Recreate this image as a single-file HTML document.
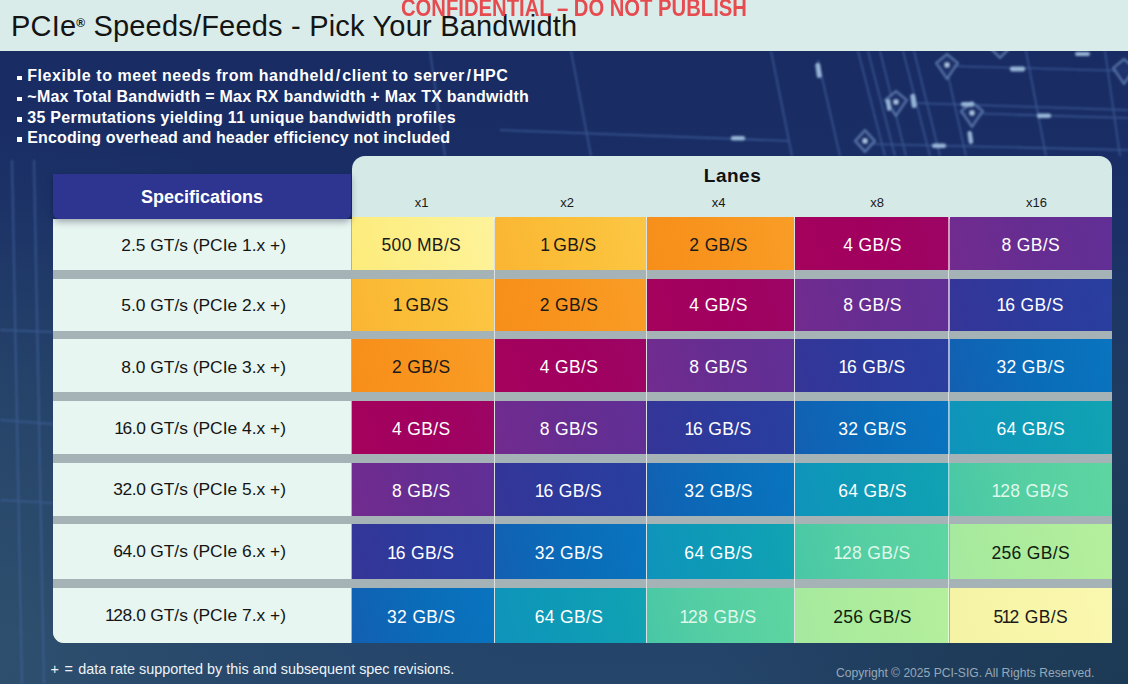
<!DOCTYPE html>
<html lang="en"><head><meta charset="utf-8"><title>PCIe Speeds/Feeds - Pick Your Bandwidth</title>
<style>
html,body{margin:0;padding:0}
body{width:1128px;height:684px;overflow:hidden;position:relative;font-family:"Liberation Sans",sans-serif;background:#1b2b62}
#bg{position:absolute;left:0;top:0;width:1128px;height:684px}
.abs{position:absolute}
#titlebar{left:0;top:0;width:1128px;height:50.5px;background:#d9ecea}
#title{left:11px;top:8.5px;font-size:29px;letter-spacing:.2px;color:#141414;white-space:nowrap;line-height:34px}
#title sup{font-size:12px;font-weight:bold;vertical-align:baseline;position:relative;top:-9px;letter-spacing:0}
#conf{left:401px;top:-7.4px;font-size:24.5px;font-weight:bold;color:#e83a3f;opacity:.9;white-space:nowrap;line-height:30px;transform:scaleX(.826);transform-origin:0 0}
.bul{left:17.1px;color:#fff;font-weight:bold;font-size:16px;white-space:nowrap;line-height:20px}
.bul s{text-decoration:none;margin:0 1.5px}
.bul i{margin-left:.3px;display:inline-block;width:4.4px;height:4.4px;background:#fff;margin-right:5.5px;vertical-align:1px}
#lanes{left:351.5px;top:155.5px;width:760.5px;height:487px;background:#d5e9e7;border-radius:13px 13px 0 0}
#gapbg{left:53px;top:219px;width:1059px;height:424px;background:#a6b3b6;border-radius:0 0 0 11px}
#spechead{left:52.7px;top:173.5px;width:298.8px;height:45.5px;background:#2d3590;border-radius:0 0 6px 6px;box-shadow:0 3px 7px rgba(0,0,40,.33);color:#fff;font-weight:bold;font-size:18px;text-align:center;line-height:47.5px}
.sp{left:53px;width:298px;background:#e8f6f1;color:#151515;font-size:17.4px;white-space:nowrap}
.sp span{position:absolute;right:65px;top:50%;transform:translateY(-50%);line-height:20px;margin-top:0px}
.c{box-sizing:border-box;text-align:center;font-size:17.5px;letter-spacing:.35px;white-space:nowrap}
.c b{font-weight:normal;margin:0 -2.2px}
.c em{font-style:normal;margin:0 -2.4px 0 -1.2px}
.c i{font-style:normal;margin:0 -1.5px 0 -1.2px}
.sp b{font-weight:normal;margin:0 -1.3px 0 -1.1px}
.sp u{text-decoration:none;letter-spacing:-.45px}
.lh{font-size:13px;color:#1a1a1a;text-align:center;line-height:16px;top:195.2px;width:40px}
#lanest{left:692.5px;width:80px;top:164.5px;text-align:center;font-weight:bold;font-size:19px;letter-spacing:.5px;color:#111;line-height:22px}
#foot{left:50.5px;top:661px;color:#eef3f8;font-size:14.4px;line-height:16px;white-space:nowrap}
#copy{left:836px;top:665.5px;color:#97a8b8;font-size:12.1px;line-height:14px;white-space:nowrap}
</style></head><body>
<svg id="bg" viewBox="0 0 1128 684">
<defs>
<linearGradient id="g1" x1="0" y1="0" x2="0" y2="1"><stop offset="0" stop-color="#182a62"/><stop offset="0.3" stop-color="#1a2f66"/><stop offset="0.6" stop-color="#203c66"/><stop offset="1" stop-color="#25456a"/></linearGradient>
<radialGradient id="g2" gradientUnits="userSpaceOnUse" cx="0" cy="640" r="520"><stop offset="0" stop-color="#31526f" stop-opacity=".8"/><stop offset="1" stop-color="#2a4a6c" stop-opacity="0"/></radialGradient>
<radialGradient id="g3" gradientUnits="userSpaceOnUse" cx="1128" cy="684" r="420"><stop offset="0" stop-color="#1c3a54" stop-opacity="1"/><stop offset="0.5" stop-color="#1d3a56" stop-opacity=".7"/><stop offset="1" stop-color="#1d3a58" stop-opacity="0"/></radialGradient>
<filter id="bl" x="-5%" y="-5%" width="110%" height="110%"><feGaussianBlur stdDeviation=".9"/></filter>
</defs>
<rect width="1128" height="684" fill="url(#g1)"/>
<rect width="1128" height="684" fill="url(#g2)"/><rect width="1128" height="684" fill="url(#g3)"/>
<g filter="url(#bl)"><g stroke="#4465a2" stroke-width="1.6" fill="none" opacity=".7">
<path d="M571 51L591 156M771 51L792 156M818 60L840 156M858 51L885 156M868 51L895 156M880 51L906 156M903 51L930 156M914 51L940 156M948 75L966 156M1026 51L1046 156M1105 51L1120 156"/>
<path d="M500 130L790 141M947 66L1128 71M915 103L1128 110M960 113L1128 118M867 144L1128 150M430 51L445 156"/>
<path d="M0 330L53 332M0 420L53 424M0 500L53 503M12 160L22 684M34 160L44 684"/>
</g>
<g fill="#1e336e" stroke="#6485b8" stroke-width="2.2" stroke-linejoin="round" opacity=".8">
<path d="M947 54l11 9-11 16-11-16z"/>
<path d="M896 91l11 9-11 16-11-16z"/>
<path d="M972 102l11 9-11 16-11-16z"/>
<path d="M1124 59l11 9-11 16-11-16z"/>
<path d="M865 130l10 11-10 11-10-11z"/>
<path d="M1000 40l9 9-9 9-9-9z"/>
</g>
<g fill="#b5d2ec" opacity=".95">
<circle cx="947" cy="65" r="2.4"/><circle cx="896" cy="102" r="2.4"/><circle cx="972" cy="113" r="2.4"/><circle cx="865" cy="141" r="2.4"/>
</g>
<g fill="#a3c3e2" opacity=".9">
<rect x="816" y="63" width="5" height="15" rx="2" transform="rotate(-8 818 70)"/>
<rect x="1010" y="66.500" width="15" height="5" rx="2"/>
<rect x="911" y="94" width="5" height="14" rx="2" transform="rotate(-8 913 101)"/>
<rect x="961" y="102" width="13" height="4.500" rx="2"/>
<rect x="1037" y="113.500" width="14" height="4.500" rx="2"/>
<rect x="932" y="143.500" width="14" height="4.500" rx="2"/>
<rect x="968" y="131" width="4.500" height="13" rx="2" transform="rotate(-8 970 137)"/>
<rect x="886.500" y="99" width="4" height="12" rx="2" transform="rotate(-8 888 105)"/>
<rect x="1075" y="52" width="15" height="4" rx="2"/>
<rect x="731" y="136" width="14" height="4.500" rx="2"/>
</g>
</g>
</svg>
<div id="titlebar" class="abs"></div>
<div id="title" class="abs">PCIe<sup>®</sup> Speeds/Feeds - Pick Your Bandwidth</div>
<div id="conf" class="abs">CONFIDENTIAL – DO NOT PUBLISH</div>

<div class="abs bul" style="top:66px;letter-spacing:0.55px"><i></i>Flexible to meet needs from handheld<s>/</s>client to server<s>/</s>HPC</div>
<div class="abs bul" style="top:87px;letter-spacing:0.25px"><i></i>~Max Total Bandwidth = Max RX bandwidth + Max TX bandwidth</div>
<div class="abs bul" style="top:107.5px;letter-spacing:0.27px"><i></i>35 Permutations yielding 11 unique bandwidth profiles</div>
<div class="abs bul" style="top:127.5px;letter-spacing:0.13px"><i></i>Encoding overhead and header efficiency not included</div>
<div id="lanes" class="abs"></div>
<div id="gapbg" class="abs"></div>
<div id="lanest" class="abs">Lanes</div>
<div class="abs lh" style="left:401.5px">x1</div>
<div class="abs lh" style="left:547.0px">x2</div>
<div class="abs lh" style="left:698.7px">x4</div>
<div class="abs lh" style="left:857.0px">x8</div>
<div class="abs lh" style="left:1016.6px">x16</div>
<div class="abs sp" style="top:219px;height:51px"><span style="margin-top:0.6px">2.5 GT/s (PCIe 1.x +)</span></div>
<div class="abs c" style="left:352px;top:216.7px;width:142px;height:53.30000000000001px;line-height:57.3px;padding-right:3.4px;background:linear-gradient(75deg,#fdec7c,#fdef8a 50%,#fef39b);color:#1a1a1a">500 MB/S</div>
<div class="abs c" style="left:495px;top:216.7px;width:151px;height:53.30000000000001px;line-height:57.3px;padding-right:3.0px;background:linear-gradient(75deg,#fab533,#fbbf38 50%,#fcc644);color:#1a1a1a"><em>1</em> GB/S</div>
<div class="abs c" style="left:647px;top:216.7px;width:147px;height:53.30000000000001px;line-height:57.3px;padding-right:3.8px;background:linear-gradient(75deg,#f78e1a,#f8951f 50%,#f99d26);color:#1a1a1a">2 GB/S</div>
<div class="abs c" style="left:795px;top:216.7px;width:153.5px;height:53.30000000000001px;line-height:57.3px;padding-left:1.6px;background:linear-gradient(75deg,#a4025c,#a1005f 50%,#9c0564);color:#fff">4 GB/S</div>
<div class="abs c" style="left:949.5px;top:216.7px;width:162.5px;height:53.30000000000001px;line-height:57.3px;background:linear-gradient(75deg,#722b8f,#662d91 50%,#602f96);color:#fff">8 GB/S</div>
<div class="abs sp" style="top:278.5px;height:52.5px"><span style="margin-top:0.4px">5.0 GT/s (PCIe 2.x +)</span></div>
<div class="abs c" style="left:352px;top:278.5px;width:142px;height:52.5px;line-height:52.5px;padding-right:3.4px;background:linear-gradient(75deg,#fab533,#fbbf38 50%,#fcc644);color:#1a1a1a"><em>1</em> GB/S</div>
<div class="abs c" style="left:495px;top:278.5px;width:151px;height:52.5px;line-height:52.5px;padding-right:3.0px;background:linear-gradient(75deg,#f78e1a,#f8951f 50%,#f99d26);color:#1a1a1a">2 GB/S</div>
<div class="abs c" style="left:647px;top:278.5px;width:147px;height:52.5px;line-height:52.5px;padding-right:3.8px;background:linear-gradient(75deg,#a4025c,#a1005f 50%,#9c0564);color:#fff">4 GB/S</div>
<div class="abs c" style="left:795px;top:278.5px;width:153.5px;height:52.5px;line-height:52.5px;padding-left:1.6px;background:linear-gradient(75deg,#722b8f,#662d91 50%,#602f96);color:#fff">8 GB/S</div>
<div class="abs c" style="left:949.5px;top:278.5px;width:162.5px;height:52.5px;line-height:52.5px;background:linear-gradient(75deg,#353597,#2c3a9c 50%,#293fa0);color:#fff"><i>1</i>6 GB/S</div>
<div class="abs sp" style="top:339px;height:52.5px"><span style="margin-top:1.3px">8.0 GT/s (PCIe 3.x +)</span></div>
<div class="abs c" style="left:352px;top:339px;width:142px;height:52.5px;line-height:56.5px;padding-right:3.4px;background:linear-gradient(75deg,#f78e1a,#f8951f 50%,#f99d26);color:#1a1a1a">2 GB/S</div>
<div class="abs c" style="left:495px;top:339px;width:151px;height:52.5px;line-height:56.5px;padding-right:3.0px;background:linear-gradient(75deg,#a4025c,#a1005f 50%,#9c0564);color:#fff">4 GB/S</div>
<div class="abs c" style="left:647px;top:339px;width:147px;height:52.5px;line-height:56.5px;padding-right:3.8px;background:linear-gradient(75deg,#722b8f,#662d91 50%,#602f96);color:#fff">8 GB/S</div>
<div class="abs c" style="left:795px;top:339px;width:153.5px;height:52.5px;line-height:56.5px;padding-left:1.6px;background:linear-gradient(75deg,#353597,#2c3a9c 50%,#293fa0);color:#fff"><i>1</i>6 GB/S</div>
<div class="abs c" style="left:949.5px;top:339px;width:162.5px;height:52.5px;line-height:56.5px;background:linear-gradient(75deg,#135fb2,#0a6cb9 50%,#0974bf);color:#fff">32 GB/S</div>
<div class="abs sp" style="top:400.5px;height:53.5px"><span style="margin-top:1px"><b>1</b><u>6.0</u> GT/s (PCIe 4.x +)</span></div>
<div class="abs c" style="left:352px;top:400.5px;width:142px;height:53.5px;line-height:56.1px;padding-right:3.4px;background:linear-gradient(75deg,#a4025c,#a1005f 50%,#9c0564);color:#fff">4 GB/S</div>
<div class="abs c" style="left:495px;top:400.5px;width:151px;height:53.5px;line-height:56.1px;padding-right:3.0px;background:linear-gradient(75deg,#722b8f,#662d91 50%,#602f96);color:#fff">8 GB/S</div>
<div class="abs c" style="left:647px;top:400.5px;width:147px;height:53.5px;line-height:56.1px;padding-right:3.8px;background:linear-gradient(75deg,#353597,#2c3a9c 50%,#293fa0);color:#fff"><i>1</i>6 GB/S</div>
<div class="abs c" style="left:795px;top:400.5px;width:153.5px;height:53.5px;line-height:56.1px;padding-left:1.6px;background:linear-gradient(75deg,#135fb2,#0a6cb9 50%,#0974bf);color:#fff">32 GB/S</div>
<div class="abs c" style="left:949.5px;top:400.5px;width:162.5px;height:53.5px;line-height:56.1px;background:linear-gradient(75deg,#0f93bb,#0e9bb6 50%,#11a3b3);color:#fff">64 GB/S</div>
<div class="abs sp" style="top:462.5px;height:53.0px"><span style="margin-top:0px"><u>32.0</u> GT/s (PCIe 5.x +)</span></div>
<div class="abs c" style="left:352px;top:462.5px;width:142px;height:53.0px;line-height:56.4px;padding-right:3.4px;background:linear-gradient(75deg,#722b8f,#662d91 50%,#602f96);color:#fff">8 GB/S</div>
<div class="abs c" style="left:495px;top:462.5px;width:151px;height:53.0px;line-height:56.4px;padding-right:3.0px;background:linear-gradient(75deg,#353597,#2c3a9c 50%,#293fa0);color:#fff"><i>1</i>6 GB/S</div>
<div class="abs c" style="left:647px;top:462.5px;width:147px;height:53.0px;line-height:56.4px;padding-right:3.8px;background:linear-gradient(75deg,#135fb2,#0a6cb9 50%,#0974bf);color:#fff">32 GB/S</div>
<div class="abs c" style="left:795px;top:462.5px;width:153.5px;height:53.0px;line-height:56.4px;padding-left:1.6px;background:linear-gradient(75deg,#0f93bb,#0e9bb6 50%,#11a3b3);color:#fff">64 GB/S</div>
<div class="abs c" style="left:949.5px;top:462.5px;width:162.5px;height:53.0px;line-height:56.4px;background:linear-gradient(75deg,#49c7a6,#56cfa2 50%,#5ed5a1);color:#dff8ea"><i>1</i>28 GB/S</div>
<div class="abs sp" style="top:524px;height:55px"><span style="margin-top:-0.3px"><u>64.0</u> GT/s (PCIe 6.x +)</span></div>
<div class="abs c" style="left:352px;top:524px;width:142px;height:55px;line-height:59.6px;padding-right:3.4px;background:linear-gradient(75deg,#353597,#2c3a9c 50%,#293fa0);color:#fff"><i>1</i>6 GB/S</div>
<div class="abs c" style="left:495px;top:524px;width:151px;height:55px;line-height:59.6px;padding-right:3.0px;background:linear-gradient(75deg,#135fb2,#0a6cb9 50%,#0974bf);color:#fff">32 GB/S</div>
<div class="abs c" style="left:647px;top:524px;width:147px;height:55px;line-height:59.6px;padding-right:3.8px;background:linear-gradient(75deg,#0f93bb,#0e9bb6 50%,#11a3b3);color:#fff">64 GB/S</div>
<div class="abs c" style="left:795px;top:524px;width:153.5px;height:55px;line-height:59.6px;padding-left:1.6px;background:linear-gradient(75deg,#49c7a6,#56cfa2 50%,#5ed5a1);color:#dff8ea"><i>1</i>28 GB/S</div>
<div class="abs c" style="left:949.5px;top:524px;width:162.5px;height:55px;line-height:59.6px;background:linear-gradient(75deg,#a5e99f,#adec9c 50%,#b5ef9c);color:#10200f">256 GB/S</div>
<div class="abs sp" style="top:588px;height:55px;border-radius:0 0 0 11px"><span style="margin-top:-1px"><b>1</b><u>28.0</u> GT/s (PCIe 7.x +)</span></div>
<div class="abs c" style="left:352px;top:588px;width:142px;height:55px;line-height:59.6px;padding-right:3.4px;background:linear-gradient(75deg,#135fb2,#0a6cb9 50%,#0974bf);color:#fff">32 GB/S</div>
<div class="abs c" style="left:495px;top:588px;width:151px;height:55px;line-height:59.6px;padding-right:3.0px;background:linear-gradient(75deg,#0f93bb,#0e9bb6 50%,#11a3b3);color:#fff">64 GB/S</div>
<div class="abs c" style="left:647px;top:588px;width:147px;height:55px;line-height:59.6px;padding-right:3.8px;background:linear-gradient(75deg,#49c7a6,#56cfa2 50%,#5ed5a1);color:#dff8ea"><i>1</i>28 GB/S</div>
<div class="abs c" style="left:795px;top:588px;width:153.5px;height:55px;line-height:59.6px;padding-left:1.6px;background:linear-gradient(75deg,#a5e99f,#adec9c 50%,#b5ef9c);color:#10200f">256 GB/S</div>
<div class="abs c" style="left:949.5px;top:588px;width:162.5px;height:55px;line-height:59.6px;background:linear-gradient(75deg,#f4f3a4,#f8f6a9 50%,#faf7af);color:#1a1a1a">5<b>1</b>2 GB/S</div>
<div class="abs" style="left:493.8px;top:217px;width:1.4px;height:426px;background:rgba(255,255,255,.6)"></div>
<div class="abs" style="left:645.5999999999999px;top:217px;width:1.4px;height:426px;background:rgba(255,255,255,.6)"></div>
<div class="abs" style="left:793.5999999999999px;top:217px;width:1.4px;height:426px;background:rgba(255,255,255,.6)"></div>
<div class="abs" style="left:948.0999999999999px;top:217px;width:1.4px;height:426px;background:rgba(255,255,255,.6)"></div>
<div id="spechead" class="abs">Specifications</div>
<div id="foot" class="abs"><span style="word-spacing:1.5px">+ = </span>data rate supported by this and subsequent spec revisions.</div>
<div id="copy" class="abs">Copyright © 2025 PCI-SIG. All Rights Reserved.</div>
</body></html>
